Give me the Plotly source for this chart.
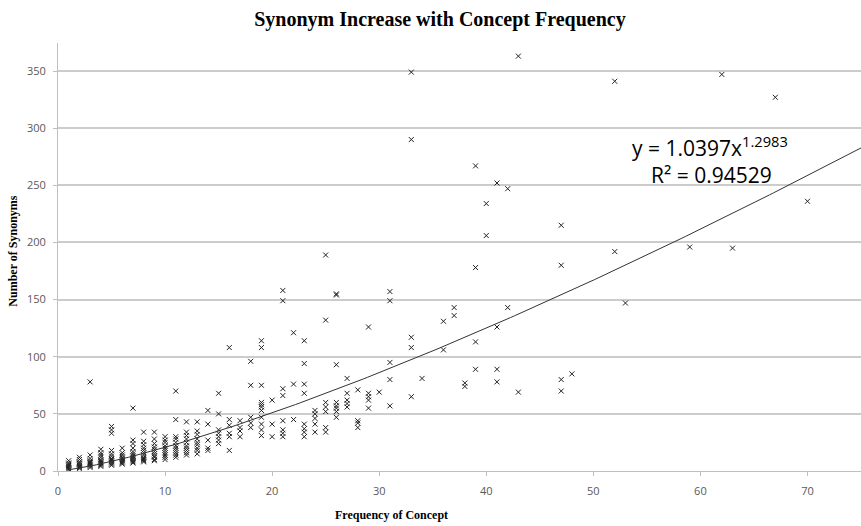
import numpy as np
import plotly.graph_objects as go

# ---- data: concept frequency (x) -> list of synonym counts (y) ----
freq_values = {
    1: [1, 2, 3, 4, 5, 6, 7, 9],
    2: [2, 3, 4, 5, 6, 7, 8, 10, 12],
    3: [3, 4, 5, 6, 7, 8, 9, 11, 14, 78],
    4: [4, 5, 6, 7, 8, 9, 10, 12, 14, 16, 19],
    5: [5, 6, 7, 8, 9, 10, 11, 13, 15, 18, 33, 36, 39],
    6: [6, 7, 8, 9, 10, 11, 12, 14, 16, 20],
    7: [7, 8, 9, 10, 11, 12, 13, 15, 17, 20, 24, 27, 55],
    8: [8, 9, 10, 11, 12, 14, 16, 18, 20, 23, 26, 34],
    9: [9, 10, 12, 13, 15, 17, 19, 21, 24, 28, 34],
    10: [10, 12, 14, 16, 18, 20, 22, 25, 27, 30],
    11: [12, 14, 16, 18, 20, 22, 25, 28, 30, 45, 70],
    12: [14, 16, 18, 20, 22, 25, 28, 31, 34, 43],
    13: [15, 18, 20, 23, 25, 28, 32, 35, 43],
    14: [18, 20, 27, 41, 53],
    15: [24, 27, 30, 33, 36, 50, 68],
    16: [18, 30, 33, 40, 45, 108],
    17: [30, 35, 38, 44],
    18: [38, 42, 47, 75, 96],
    19: [31, 36, 41, 47, 53, 56, 58, 60, 75, 108, 114],
    20: [30, 41, 62],
    21: [30, 33, 36, 44, 66, 72, 149, 158],
    22: [45, 76, 121],
    23: [30, 34, 37, 41, 68, 76, 94, 114],
    24: [34, 41, 46, 50, 53],
    25: [34, 38, 52, 56, 60, 132, 189],
    26: [47, 52, 55, 57, 60, 93, 154, 155],
    27: [56, 59, 62, 68, 81],
    28: [38, 42, 44, 71],
    29: [55, 62, 65, 68, 126],
    30: [69],
    31: [57, 80, 95, 149, 157],
    33: [65, 108, 117, 290, 349],
    34: [81],
    36: [106, 131],
    37: [136, 143],
    38: [74, 77],
    39: [89, 113, 178, 267],
    40: [206, 234],
    41: [78, 89, 126, 252],
    42: [143, 247],
    43: [69, 363],
    47: [70, 80, 180, 215],
    48: [85],
    52: [192, 341],
    53: [147],
    59: [196],
    62: [347],
    63: [195],
    67: [327],
    70: [236],
}

frequency = [f for f, ys in freq_values.items() for _ in ys]
synonyms = [y for ys in freq_values.values() for y in ys]

# power trendline coefficients shown on the chart
trend_a = 1.0397
trend_b = 1.2983
trend_r2 = 0.94529

x_ticks = [0, 10, 20, 30, 40, 50, 60, 70]
y_ticks = [0, 50, 100, 150, 200, 250, 300, 350]

trend_x = np.linspace(min(frequency), 75, 200)
trend_y = trend_a * trend_x ** trend_b

W, H = 861, 526
PL, PB, PT = 58, 470.7, 43
PW, PH = W - PL, PB - PT

fig = go.Figure()
fig.add_trace(go.Scatter(
    x=frequency, y=synonyms, mode="markers",
    marker=dict(symbol="x-thin-open", size=5, color="#222222",
                line=dict(width=1, color="#222222")),
    showlegend=False, hoverinfo="x+y"))
fig.add_trace(go.Scatter(
    x=trend_x, y=trend_y, mode="lines",
    line=dict(color="#333333", width=1), showlegend=False, hoverinfo="skip"))

tick_font = dict(family="Open Sans, Liberation Sans, sans-serif", size=11, color="#595959")
serif_bold = "Liberation Serif, Times New Roman, serif"
eq_font = dict(family="Open Sans, Liberation Sans, sans-serif", size=21, color="black")

fig.update_layout(
    width=W, height=H,
    margin=dict(l=PL, r=0, t=PT, b=H - PB),
    paper_bgcolor="white", plot_bgcolor="white",
    title=dict(text="<b>Synonym Increase with Concept Frequency</b>",
               x=440 / W, xanchor="center", y=1 - 19 / H, yanchor="middle",
               font=dict(family=serif_bold, size=20, color="black")),
    xaxis=dict(range=[0, 75], tickvals=x_ticks, showgrid=False, zeroline=False,
               showline=True, linecolor="#bfbfbf", linewidth=1,
               ticks="outside", ticklen=4, tickcolor="#bfbfbf",
               tickfont=tick_font, ticklabelstandoff=6),
    yaxis=dict(range=[0, 374.5], tickvals=y_ticks, showgrid=True,
               gridcolor="#cccccc", gridwidth=1.5, zeroline=False,
               showline=True, linecolor="#bfbfbf", linewidth=1,
               ticks="outside", ticklen=4, tickcolor="#bfbfbf",
               tickfont=tick_font, ticklabelstandoff=5),
    annotations=[
        dict(text="<b>Frequency of Concept</b>", xref="paper", yref="paper",
             x=(391 - PL) / PW, y=-(515 - PB) / PH,
             xanchor="center", yanchor="middle", showarrow=False,
             font=dict(family=serif_bold, size=12, color="black")),
        dict(text="<b>Number of Synonyms</b>", xref="paper", yref="paper",
             x=-(PL - 13) / PW, y=(PB - 251.5) / PH, textangle=-90,
             xanchor="center", yanchor="middle", showarrow=False,
             font=dict(family=serif_bold, size=12, color="black")),
        dict(text=f"y = {trend_a}x<sup>{trend_b}</sup>", xref="paper", yref="paper",
             x=(710 - PL) / PW, y=(PB - 146) / PH,
             xanchor="center", yanchor="middle", showarrow=False, font=eq_font),
        dict(text=f"R² = {trend_r2}", xref="paper", yref="paper",
             x=(711 - PL) / PW, y=(PB - 175) / PH,
             xanchor="center", yanchor="middle", showarrow=False, font=eq_font),
    ],
)

fig.write_html("out.html", config={"displayModeBar": False},
               post_script="document.body.style.margin='0';document.body.style.overflow='hidden';")
